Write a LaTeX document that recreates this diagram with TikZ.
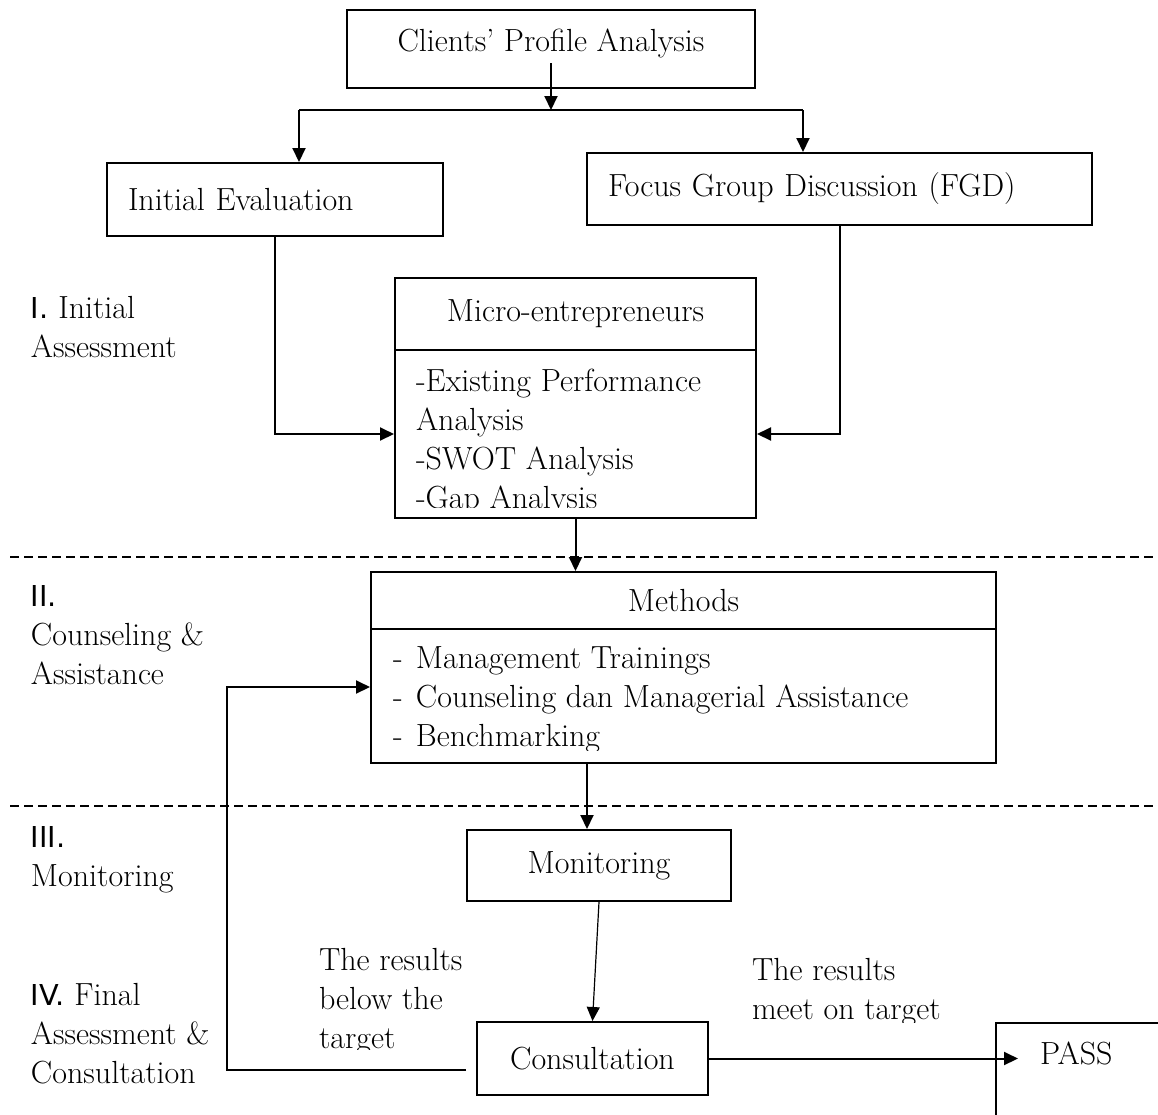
\documentclass[tikz,border=0pt]{standalone}
\usepackage{fontspec}
\newfontfamily\numfont[Scale=0.9]{DejaVu Sans}
\usetikzlibrary{arrows.meta, calc}
\newcommand{\flowfont}{\fontsize{16}{19.5}\selectfont}
\newcommand{\dashitem}[1]{\makebox[11.5pt][l]{-}#1}

\begin{document}
\begin{tikzpicture}[x=0.5pt, y=-0.5pt, >={Triangle[length=7pt, width=6.5pt]}, line width=1pt,
  box/.style={draw, inner sep=0pt, font=\flowfont},
  txt/.style={anchor=north west, align=left, inner sep=0pt, font=\flowfont},
  arr/.style={->},
  sep/.style={line width=1pt, dash pattern=on 4.5pt off 2.5pt}]

% Canvas
\useasboundingbox (0,0) rectangle (1158,1115);
\clip (0,0) rectangle (1158,1115);

% Stage separators
\draw[sep] (10,557) -- (1158,557);
\draw[sep] (10,806) -- (1158,806);

% Stage labels
\node[txt] (stage1) at (30,295) {{\numfont I.} Initial\\Assessment};
\node[txt] (stage2) at (30,584) {{\numfont II.}\\Counseling \&\\Assistance};
\node[txt] (stage3) at (30,825) {{\numfont III.}\\Monitoring};
\node[txt] (stage4) at (30,982) {{\numfont IV.} Final\\Assessment \&\\Consultation};

% --- Initial assessment ---
\node[box, minimum width=204pt, minimum height=39pt] (clients) at (551,49)
  {\raisebox{3pt}[\height][\depth]{Clients' Profile Analysis}};
\node[box, minimum width=168pt, minimum height=36.5pt, text width=147pt, align=left]
  (initial) at (275,199.5) {Initial Evaluation};
\node[box, minimum width=252.5pt, minimum height=36pt, text width=231.5pt, align=left]
  (fgd) at (839.5,189) {Focus Group Discussion (FGD)};

\node[box, minimum width=180.5pt, minimum height=36pt] (microhead) at (575.5,314)
  {Micro-entrepreneurs};
\node[box, minimum width=180.5pt, minimum height=84pt] (microbody) at (575.5,434) {};
\begin{scope}
  \clip (395,350) rectangle (756,507);
  \node[txt] (microlist) at (415,368)
    {-Existing Performance\\Analysis\\-SWOT Analysis\\-Gap Analysis};
\end{scope}

\coordinate (split) at (551,110);
\coordinate (barl) at (299,110);
\coordinate (barr) at (803,110);
\draw[arr] ([yshift=-7pt]clients.center) -- (split);
\draw (barl) -- (barr);
\draw[arr] (barl) -- (barl |- initial.north);
\draw[arr] (barr) -- (barr |- fgd.north);
\draw[arr] (initial.south) |- (microbody.west);
\draw[arr] (fgd.south) |- (microbody.east);

% --- Counseling & assistance ---
\node[box, minimum width=312.5pt, minimum height=28.5pt] (methead) at (683.5,600.5) {Methods};
\node[box, minimum width=312.5pt, minimum height=67pt] (metbody) at (683.5,696) {};
\begin{scope}
  \clip (371,629) rectangle (996,750);
  \node[txt] (methlist) at (392,646)
    {\dashitem{Management Trainings}\\\dashitem{Counseling dan Managerial Assistance}\\\dashitem{Benchmarking}};
\end{scope}
\draw[arr] (microbody.south) -- (microbody.south |- methead.north);

% --- Monitoring and final assessment ---
\node[box, minimum width=132pt, minimum height=35.5pt] (monitor) at (599,865.5) {Monitoring};
\node[box, minimum width=115.5pt, minimum height=36.5pt] (consult) at (592.5,1058.5) {Consultation};
\node[box, anchor=north west, minimum width=120pt, minimum height=60pt] (pass) at (995,1022) {};
\node[font=\flowfont, anchor=west, inner sep=0pt] (passlbl) at (1039,1053) {PASS};

\coordinate (mtop) at ([xshift=-6pt]monitor.north);
\draw[arr] (metbody.south -| mtop) -- (mtop);
\draw[arr, line width=0.6pt] (monitor.south) -- (consult.north);

\coordinate (passtip) at (1018,1060);
\draw[arr] (consult.east) -- (consult.east -| passtip);

% Feedback loop
\coordinate (fbfrom) at (466,1070);
\coordinate (fbturn) at (227,1070);
\coordinate (fblevel) at (0,687);
\draw[arr] (fbfrom) -- (fbturn) |- (metbody.west |- fblevel);

% Result notes
\begin{scope}
  \clip (300,900) rectangle (470,1049);
  \node[txt] (below) at (318,947) {The results\\below the\\target};
\end{scope}
\begin{scope}
  \clip (740,930) rectangle (990,1022);
  \node[txt] (meet) at (751,957) {The results\\meet on target};
\end{scope}

\end{tikzpicture}
\end{document}
